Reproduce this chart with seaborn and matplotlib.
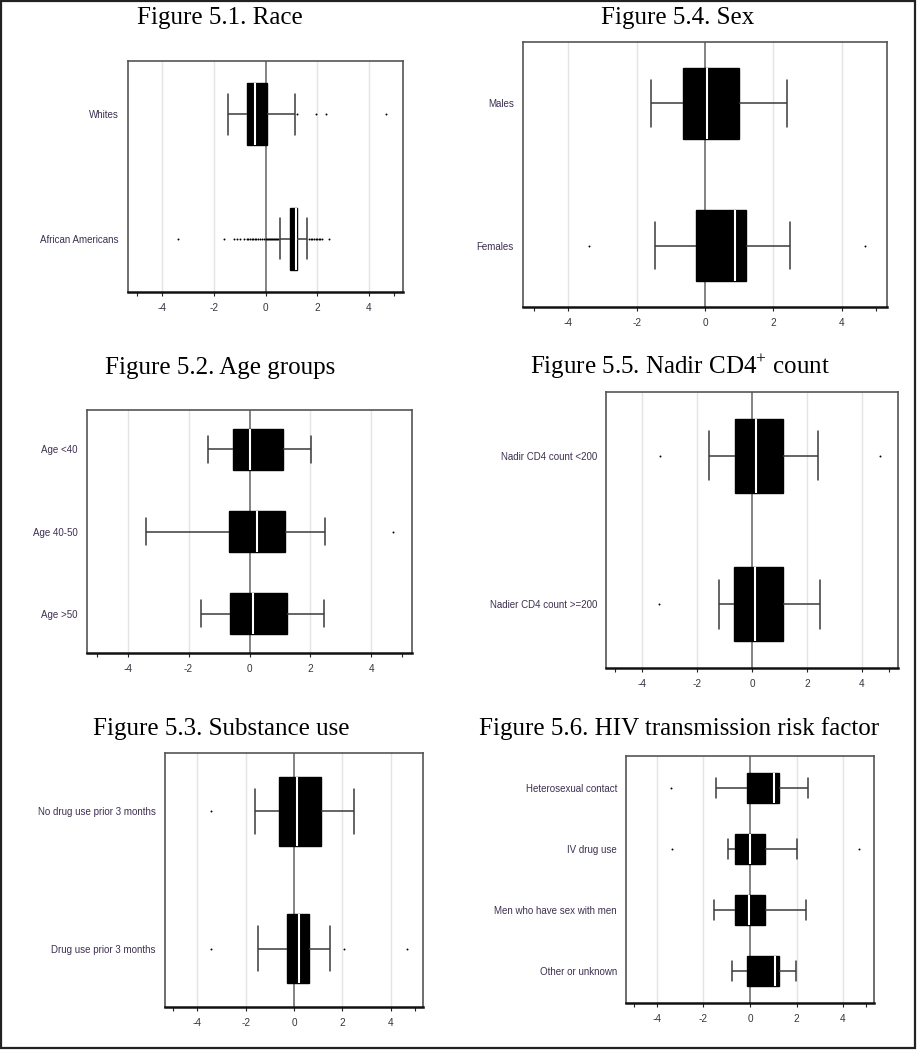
"""Box plots of residual scores by patient group (figures 5.1 - 5.6)."""

import pandas as pd
import matplotlib.pyplot as plt
from matplotlib.patches import Rectangle
import seaborn as sns

# ---- data ----
race_labels = ['Whites', 'African Americans']
race_whislo = [-1.45, 0.56]
race_q1 = [-0.70, 0.95]
race_med = [-0.39, 1.18]
race_q3 = [0.04, 1.23]
race_whishi = [1.13, 1.61]
race_fliers = [
	[1.21, 1.96, 2.36, 4.68],
	[-3.39, -1.62, -1.24, -1.10, -0.97, -0.85, -0.72, -0.66, -0.60, -0.54,
	 -0.48, -0.42, -0.36, -0.30, -0.20, -0.12, -0.05, 0.02, 0.06, 0.10,
	 0.14, 0.18, 0.22, 0.26, 0.30, 0.34, 0.38, 0.42, 0.46, 0.50,
	 1.68, 1.75, 1.82, 1.88, 1.94, 2.00, 2.06, 2.12, 2.20, 2.45],
]

age_labels = ['Age <40', 'Age 40-50', 'Age >50']
age_whislo = [-1.36, -3.39, -1.58]
age_q1 = [-0.55, -0.66, -0.63]
age_med = [0.00, 0.24, 0.10]
age_q3 = [1.09, 1.17, 1.22]
age_whishi = [2.01, 2.48, 2.43]
age_fliers = [[], [4.70], []]

drug_labels = ['No drug use prior 3 months', 'Drug use prior 3 months']
drug_whislo = [-1.60, -1.48]
drug_q1 = [-0.64, -0.27]
drug_med = [0.13, 0.21]
drug_q3 = [1.13, 0.61]
drug_whishi = [2.49, 1.50]
drug_fliers = [[-3.41], [-3.41, 2.08, 4.68]]

sex_labels = ['Males', 'Females']
sex_whislo = [-1.57, -1.45]
sex_q1 = [-0.63, -0.26]
sex_med = [0.05, 0.88]
sex_q3 = [1.00, 1.20]
sex_whishi = [2.41, 2.50]
sex_fliers = [[], [-3.40, 4.68]]

cd4_labels = ['Nadir CD4 count <200', 'Nadier CD4 count >=200']
cd4_whislo = [-1.57, -1.22]
cd4_q1 = [-0.61, -0.64]
cd4_med = [0.15, 0.12]
cd4_q3 = [1.14, 1.14]
cd4_whishi = [2.42, 2.50]
cd4_fliers = [[-3.37, 4.67], [-3.40]]

hiv_labels = ['Heterosexual contact', 'IV drug use',
	'Men who have sex with men', 'Other or unknown']
hiv_whislo = [-1.46, -0.96, -1.56, -0.77]
hiv_q1 = [-0.15, -0.63, -0.63, -0.15]
hiv_med = [1.02, -0.01, -0.04, 1.08]
hiv_q3 = [1.24, 0.63, 0.66, 1.24]
hiv_whishi = [2.48, 2.01, 2.42, 1.97]
hiv_fliers = [[-3.39], [-3.34, 4.67], [], []]

panels = [
	('Figure 5.1. Race', race_labels, race_whislo, race_q1, race_med, race_q3, race_whishi, race_fliers),
	('Figure 5.4. Sex', sex_labels, sex_whislo, sex_q1, sex_med, sex_q3, sex_whishi, sex_fliers),
	('Figure 5.2. Age groups', age_labels, age_whislo, age_q1, age_med, age_q3, age_whishi, age_fliers),
	('Figure 5.5. Nadir CD4$^{+}$ count', cd4_labels, cd4_whislo, cd4_q1, cd4_med, cd4_q3, cd4_whishi, cd4_fliers),
	('Figure 5.3. Substance use', drug_labels, drug_whislo, drug_q1, drug_med, drug_q3, drug_whishi, drug_fliers),
	('Figure 5.6. HIV transmission risk factor', hiv_labels, hiv_whislo, hiv_q1, hiv_med, hiv_q3, hiv_whishi, hiv_fliers),
]

# axes boxes in pixels (left, top, right, bottom) and title baselines
W, H = 917, 1050
boxes = [(128, 61, 403, 292), (523, 42, 887, 307),
	(87, 410, 412, 653), (606, 392, 898, 668),
	(165, 753, 423, 1007), (626, 756, 874, 1003)]
title_pos = [(220, 24), (678, 24), (220, 374), (680, 374), (221, 735), (679, 735)]
ypads = [0.43, 0.43, 0.48, 0.43, 0.425, 0.52]

sns.set_style('white')
plt.rcParams['font.family'] = ['Liberation Sans', 'DejaVu Sans']
plt.rcParams['axes.unicode_minus'] = False
plt.rcParams['mathtext.fontset'] = 'custom'
plt.rcParams['mathtext.rm'] = 'Liberation Serif'

fig = plt.figure(figsize=(W / 100, H / 100), dpi=100)

for (title, labels, lo, q1, med, q3, hi, fliers), box, tpos, pad in zip(panels, boxes, title_pos, ypads):
	l, t, r, b = box
	ax = fig.add_axes([l / W, 1 - b / H, (r - l) / W, (b - t) / H])

	# five values per group give exact quartiles, whiskers reach min/max
	rows = []
	for i, lab in enumerate(labels):
		for v in (lo[i], q1[i], med[i], q3[i], hi[i]):
			rows.append({'group': lab, 'value': v})
	df = pd.DataFrame(rows)
	fl = pd.DataFrame([{'group': lab, 'value': v}
		for lab, vals in zip(labels, fliers) for v in vals])

	ax.axvline(0, color='#6e6e6e', lw=1.2, zorder=0.8)
	for gx in (-4, -2, 2, 4):
		ax.axvline(gx, color='#e4e4e4', lw=1.0, zorder=0.5)

	sns.boxplot(data=df, x='value', y='group', order=labels, orient='h',
		whis=(0, 100), width=0.5, color='black', linecolor='black',
		linewidth=1, showfliers=False, capwidths=0.33, ax=ax,
		medianprops={'color': 'white', 'linewidth': 1.5},
		whiskerprops={'color': '#3a3a3a', 'linewidth': 1.1},
		capprops={'color': '#3a3a3a', 'linewidth': 1.1})
	if len(fl):
		sns.stripplot(data=fl, x='value', y='group', order=labels, orient='h',
			jitter=False, color='black', size=1.4, linewidth=0, ax=ax)

	ax.set_xlim(-5.33, 5.33)
	ax.set_ylim(len(labels) - 1 + pad, -pad)
	ax.set_xticks([-4, -2, 0, 2, 4])
	ax.set_xticks([-5, 5], minor=True)
	ax.set_xlabel('')
	ax.set_ylabel('')
	ax.tick_params(axis='x', which='both', bottom=True, direction='out',
		length=3, width=0.8, color='#222222', labelsize=7.2,
		labelcolor='#3a3340', pad=5)
	ax.tick_params(axis='y', left=False, labelsize=7, labelcolor='#3d3050', pad=3)
	for side in ('top', 'left', 'right'):
		ax.spines[side].set_color('#555555')
		ax.spines[side].set_linewidth(1.2)
	ax.spines['bottom'].set_color('#111111')
	ax.spines['bottom'].set_linewidth(1.8)

	fig.text(tpos[0] / W, 1 - tpos[1] / H, title, ha='center', va='baseline',
		family='Liberation Serif', fontsize=18, color='black')

# outer frame
fig.patches.append(Rectangle((0.001, 0.002), 0.997, 0.997, transform=fig.transFigure,
	fill=False, edgecolor='#222222', linewidth=1.6))

fig.savefig('out.png', dpi=100)
plt.close(fig)
